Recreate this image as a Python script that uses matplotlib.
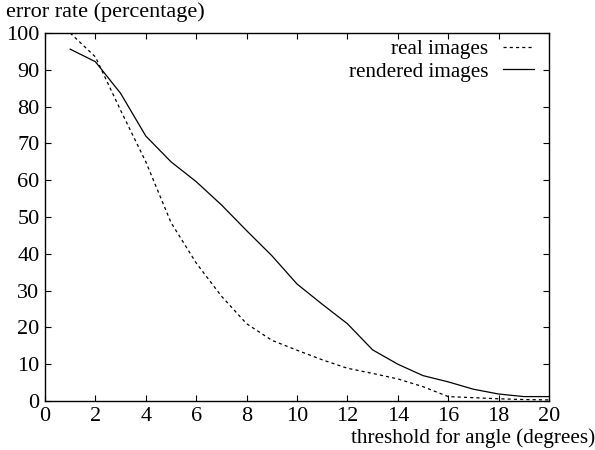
import matplotlib
matplotlib.use("Agg")
import matplotlib.pyplot as plt

thresholds = [1, 2, 3, 4, 5, 6, 7, 8, 9, 10, 11, 12, 13, 14, 15, 16, 17, 18, 19, 20]
real_images = [100, 93.5, 79, 65, 48.5, 37.5, 28.5, 21, 16.5, 13.8, 11.2, 8.9, 7.5, 6.0, 3.9, 1.2, 0.9, 0.6, 0.4, 0.3]
rendered_images = [95.6, 92.2, 83.6, 72, 65, 59.6, 53.3, 46.3, 39.5, 31.8, 26.3, 21, 13.9, 10, 6.9, 5.2, 3.2, 1.9, 1.2, 1.2]
xticks = list(range(0, 21, 2))
yticks = list(range(0, 101, 10))

plt.rcParams['font.family'] = ['Liberation Serif', 'DejaVu Serif']
fs = 16
fs2 = 15.2
plt.rcParams['font.size'] = fs

fig = plt.figure(figsize=(5.95, 4.5), dpi=100)
ax = fig.add_axes([45/595, 49/450, (549-45)/595, (401-33)/450])

ax.plot(thresholds, real_images, color='black', linestyle=(0, (2.5, 2.5)), linewidth=0.9, label='real images')
ax.plot(thresholds, rendered_images, color='black', linestyle='-', linewidth=0.9, label='rendered images')

ax.set_xlim(0, 20)
ax.set_ylim(0, 100)
ax.set_xticks(xticks)
ax.set_yticks(yticks)
ax.tick_params(direction='in', length=4, width=0.8, top=True, right=True, labelsize=fs, pad=4)
for s in ax.spines.values():
    s.set_linewidth(1.0)

fig.text(6/595, 1 - 12/450, 'error rate (percentage)', ha='left', va='center', fontsize=fs)
fig.text(595/595, 1 - 438/450, 'threshold for angle (degrees)', ha='right', va='center', fontsize=fs2)

leg = ax.legend(loc='upper right', frameon=False, markerfirst=False, handlelength=1.45,
                handletextpad=0.7, borderaxespad=0, borderpad=0.1, labelspacing=0.15,
                bbox_to_anchor=(536/595, 1 - 37/450), bbox_transform=fig.transFigure,
                fontsize=fs2)

fig.savefig('out.png', dpi=100)
